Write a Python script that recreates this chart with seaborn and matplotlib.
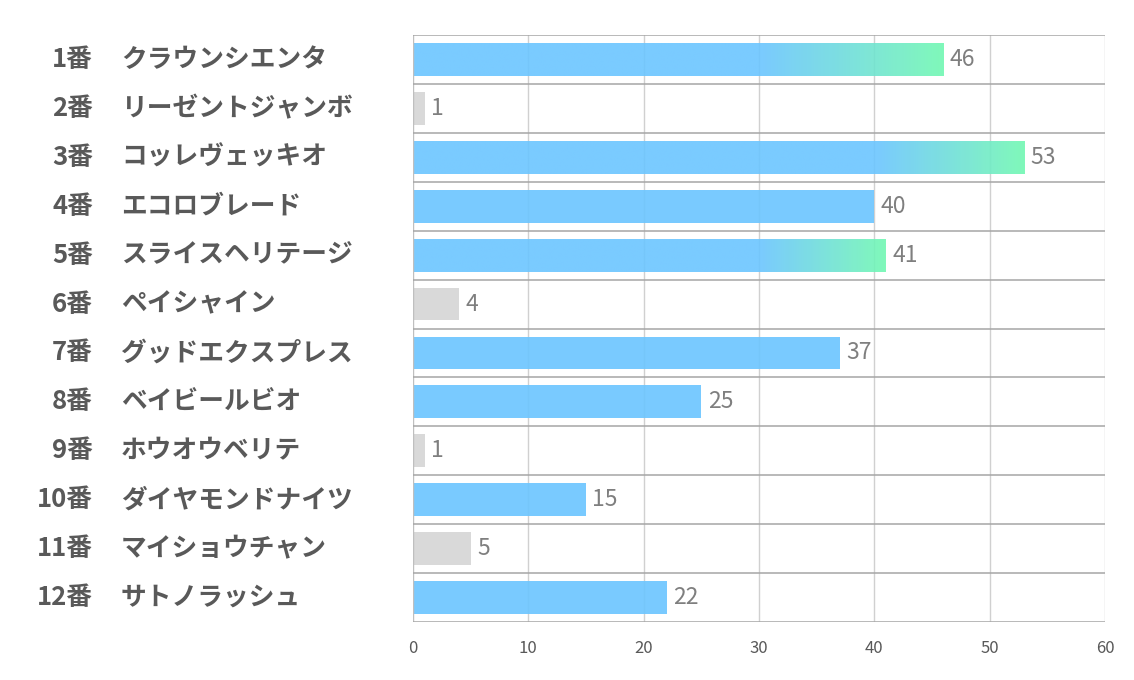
import matplotlib
matplotlib.use("Agg")
import matplotlib.pyplot as plt
import seaborn as sns
import numpy as np
import pandas as pd
from matplotlib.colors import LinearSegmentedColormap
from matplotlib.transforms import blended_transform_factory

numbers = ["1番", "2番", "3番", "4番", "5番", "6番", "7番", "8番", "9番", "10番", "11番", "12番"]
names = ["クラウンシエンタ", "リーゼントジャンボ", "コッレヴェッキオ", "エコロブレード",
         "スライスヘリテージ", "ペイシャイン", "グッドエクスプレス", "ベイビールビオ",
         "ホウオウベリテ", "ダイヤモンドナイツ", "マイショウチャン", "サトノラッシュ"]
values = [46, 1, 53, 40, 41, 4, 37, 25, 1, 15, 5, 22]
kind = ["grad", "gray", "grad", "blue", "grad", "gray", "blue", "blue", "gray", "blue", "gray", "blue"]
grad_start = [30, None, 40, None, 30, None, None, None, None, None, None, None]
xticks = [0, 10, 20, 30, 40, 50, 60]

ALPHA = 0.9
BLUE = "#6BC5FF"
GREEN = "#72F8B3"
GRAY = "#D5D5D5"

sns.set_theme(style="white")
plt.rcParams['font.family'] = ['Noto Sans CJK JP', 'DejaVu Sans']

df = pd.DataFrame({"label": [f"{n} {m}" for n, m in zip(numbers, names)],
                   "value": values, "kind": kind})
colors = [GRAY if k == "gray" else BLUE for k in kind]

fig = plt.figure(figsize=(11.34, 6.8), dpi=100)
ax = fig.add_axes([413/1134, 1-622/680, (1105-413)/1134, (622-35)/680])

# grid lines (under bars)
for x in xticks[1:]:
    ax.axvline(x, color="#D0D0D0", lw=1.0, zorder=1)

sns.barplot(data=df, x="value", y="label", hue="label", palette=colors,
            legend=False, width=0.67, ax=ax, saturation=1, zorder=2)

ax.set_xlim(0, 60)
ax.set_ylim(len(values) - 0.5, -0.5)

cmap = LinearSegmentedColormap.from_list("bg", [BLUE, GREEN])
for i, p in enumerate(list(ax.patches)):
    p.set_alpha(ALPHA)
    p.set_edgecolor("none")
    gs = grad_start[i]
    if gs is not None:
        x0, y0 = p.get_x(), p.get_y()
        w, h = p.get_width(), p.get_height()
        grad = np.concatenate([np.zeros(int(gs * 10)), np.linspace(0, 1, int((w - gs) * 10))])
        p.set_visible(False)
        im = ax.imshow(grad[np.newaxis, :], extent=[x0, x0 + w, y0 + h, y0], cmap=cmap,
                       aspect="auto", zorder=2, alpha=ALPHA, interpolation="bilinear")
        p.set_visible(True)
        p.set_facecolor("none")
        im.set_clip_path(p)

ax.axvline(0, color="#BFBFBF", lw=1.0, zorder=3)
for k in range(len(values) + 1):
    ax.axhline(k - 0.5, color="#A6A6A6", lw=1.1, zorder=3)

for s in ax.spines.values():
    s.set_visible(False)

ax.set_xticks(xticks)
ax.set_xticklabels([str(t) for t in xticks], fontsize=12, color="#595959")
ax.tick_params(axis="x", length=0, pad=13)
ax.set_yticks([])
ax.set_xlabel("")
ax.set_ylabel("")

# value labels
for i, v in enumerate(values):
    ax.text(v + 0.55, i, str(v), va="center", ha="left", fontsize=16.5, color="#7F7F7F", zorder=4)

# row labels
tr = blended_transform_factory(fig.transFigure, ax.transData)
for i, (n, m) in enumerate(zip(numbers, names)):
    ax.text(93/1134, i, n, transform=tr, ha="right", va="center",
            fontsize=18.5, fontweight="bold", color="#595959")
    ax.text(121/1134, i, m, transform=tr, ha="left", va="center",
            fontsize=18.5, fontweight="bold", color="#595959")

fig.savefig("out.png", dpi=100)
